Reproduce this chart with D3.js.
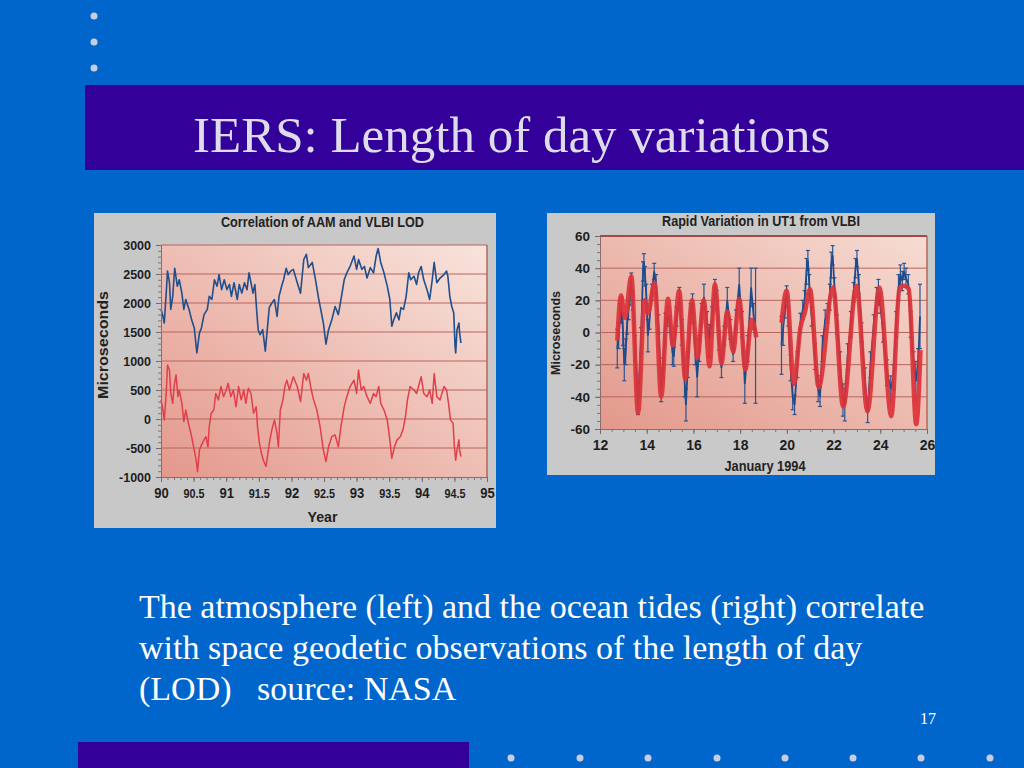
<!DOCTYPE html>
<html>
<head>
<meta charset="utf-8">
<script src="https://cdn.jsdelivr.net/npm/d3@7"></script>
<style>
body { margin: 0; background: #0066cc; }
svg { display: block; }
</style>
</head>
<body>
<svg id="slide" width="1024" height="768"></svg>
<script>
"use strict";

// ---- left chart: Correlation of AAM and VLBI LOD (year, microseconds)
var lodSeries = [[90.00,1890],[90.03,1770],[90.05,1655],[90.08,2170],[90.10,2550],[90.13,2350],[90.15,1890],[90.18,2115],[90.21,2600],[90.25,2290],[90.28,2400],[90.32,2170],[90.35,1890],[90.38,2060],[90.43,1890],[90.47,1710],[90.51,1570],[90.55,1140],[90.59,1485],[90.62,1570],[90.66,1800],[90.71,1890],[90.74,2115],[90.78,2060],[90.82,2400],[90.86,2290],[90.89,2490],[90.93,2230],[90.97,2400],[91.01,2230],[91.05,2320],[91.08,2115],[91.12,2350],[91.17,2060],[91.20,2320],[91.24,2170],[91.28,2350],[91.32,2230],[91.35,2520],[91.38,2350],[91.41,2170],[91.44,2320],[91.47,1830],[91.49,1540],[91.52,1455],[91.56,1540],[91.60,1170],[91.63,1540],[91.66,1920],[91.70,2000],[91.74,2060],[91.78,1770],[91.81,2115],[91.85,2290],[91.88,2400],[91.92,2600],[91.95,2490],[91.99,2550],
    [92.03,2580],[92.09,2350],[92.14,2170],[92.19,2750],[92.23,2840],[92.26,2610],[92.32,2700],[92.37,2400],[92.42,2060],[92.45,1890],[92.49,1655],[92.53,1290],[92.57,1540],[92.62,1710],[92.67,1940],[92.72,1800],[92.76,2060],[92.81,2400],[92.85,2520],[92.90,2630],[92.96,2810],[93.00,2580],[93.03,2750],[93.08,2580],[93.12,2630],[93.16,2430],[93.21,2610],[93.26,2520],[93.30,2810],[93.33,2940],[93.37,2700],[93.42,2520],[93.47,2290],[93.51,2060],[93.54,1600],[93.57,1710],[93.61,1830],[93.65,1710],[93.68,1920],[93.72,1890],[93.76,2115],[93.80,2520],[93.83,2400],[93.88,2460],[93.92,2320],[93.95,2520],[93.99,2630],[94.03,2400],[94.08,2230],[94.12,2060],[94.16,2400],[94.19,2700],[94.23,2350],[94.28,2430],[94.34,2490],[94.38,2550],[94.40,2460],[94.43,2115],[94.46,1940],[94.49,1830],[94.51,1255],[94.52,1140],[94.54,1540],[94.57,1655],[94.58,1485],[94.60,1310]];

var aamSeries = [[90.00,330],[90.03,155],[90.05,-15],[90.08,440],[90.10,930],[90.13,845],[90.15,440],[90.18,270],[90.20,560],[90.23,760],[90.26,385],[90.28,500],[90.32,270],[90.35,-45],[90.38,155],[90.42,-75],[90.46,-250],[90.50,-480],[90.54,-710],[90.56,-910],[90.59,-535],[90.62,-450],[90.66,-360],[90.69,-305],[90.72,-480],[90.74,-130],[90.77,100],[90.81,155],[90.84,440],[90.88,330],[90.92,560],[90.96,385],[91.00,500],[91.03,615],[91.07,385],[91.11,500],[91.15,210],[91.19,560],[91.23,330],[91.27,500],[91.30,270],[91.34,530],[91.38,440],[91.42,100],[91.46,210],[91.48,-130],[91.51,-420],[91.54,-590],[91.57,-710],[91.61,-820],[91.64,-590],[91.67,-360],[91.70,-190],[91.74,-15],[91.78,-250],[91.80,-480],[91.83,155],[91.87,330],[91.90,560],[91.93,670],[91.97,500],[92.00,615],
    [92.03,730],[92.09,560],[92.14,300],[92.19,785],[92.23,670],[92.26,785],[92.30,530],[92.34,330],[92.39,155],[92.44,-130],[92.49,-535],[92.53,-735],[92.57,-480],[92.62,-305],[92.67,-275],[92.72,-480],[92.76,-130],[92.81,210],[92.85,385],[92.90,560],[92.96,670],[93.00,440],[93.03,845],[93.07,500],[93.11,560],[93.16,385],[93.21,270],[93.26,440],[93.30,385],[93.34,560],[93.37,270],[93.42,155],[93.47,-15],[93.51,-360],[93.54,-680],[93.58,-480],[93.62,-360],[93.67,-305],[93.71,-190],[93.75,40],[93.78,330],[93.82,560],[93.88,500],[93.92,440],[93.95,560],[93.99,730],[94.03,440],[94.08,385],[94.12,500],[94.16,270],[94.19,785],[94.23,385],[94.28,330],[94.34,560],[94.38,500],[94.41,270],[94.44,-15],[94.48,-75],[94.50,-480],[94.52,-710],[94.54,-535],[94.57,-360],[94.58,-535],[94.60,-650]];

var lodYTicks = [-1000, -500, 0, 500, 1000, 1500, 2000, 2500, 3000];
var lodXTicks = [90, 90.5, 91, 91.5, 92, 92.5, 93, 93.5, 94, 94.5, 95];

// ---- right chart: Rapid Variation in UT1 from VLBI (day of January 1994, microseconds)
// ocean tide model, null marks the gap
var tideDays = [12.74,12.90,13.07,13.34,13.63,13.91,14.05,14.34,14.62,14.91,15.12,15.39,15.65,15.94,16.17,16.44,16.69,16.92,17.20,17.45,17.70,17.96,18.22,18.49,18.69, null,
    19.77,19.99,20.30,20.58,20.78,20.99,21.36,21.98,22.41,22.98,23.45,23.96,24.47,24.82,25.00,25.22,25.54,25.72];
var tideValues = [-5,23,9,35,-50,20,12,31,-40,21,-8,26,-29,20,-16,20,-21,30,-19,13,-12,21,-23,8,-3, null,
    6,26,-32,3,13,27,-34,28,-46,29,-49,28,-52,27,29,27,-57,-11];

// VLBI observations with error bars, null marks the gap
var obsDays = [12.74,12.80,12.86,12.92,12.98,13.04,13.10,13.16,13.22,13.28,13.34,13.40,13.50,13.63,13.76,13.84,13.88,13.93,13.98,14.05,14.12,14.22,14.32,14.40,14.50,14.62,14.70,14.80,14.90,15.00,15.10,15.16,15.28,15.40,15.50,15.62,15.68,15.76,15.88,15.96,16.08,16.16,16.25,16.35,16.45,16.58,16.68,16.80,16.92,17.00,17.10,17.20,17.32,17.45,17.58,17.70,17.82,17.96,18.08,18.20,18.32,18.47,18.58,18.66, null,
    19.77,19.84,19.92,19.99,20.06,20.16,20.25,20.33,20.45,20.58,20.68,20.76,20.84,20.90,20.96,21.06,21.20,21.34,21.42,21.52,21.64,21.74,21.84,21.90,21.96,22.04,22.14,22.28,22.40,22.48,22.60,22.74,22.86,22.94,23.00,23.08,23.20,23.34,23.46,23.58,23.72,23.84,23.92,24.00,24.12,24.28,24.45,24.56,24.68,24.78,24.86,24.94,25.02,25.10,25.20,25.30,25.42,25.52,25.62,25.70];
var obsValues = [-10,-2,12,14,2,-20,-12,5,14,22,32,20,-10,-45,-5,38,44,35,24,-2,8,25,38,30,5,-35,-22,6,10,5,-12,-15,10,22,0,-30,-45,-20,12,18,-12,-28,-10,12,22,5,-5,10,28,20,-5,-22,-2,20,2,-14,8,30,5,-32,-10,28,10,-2, null,
    -8,2,15,24,10,-22,-40,-45,-20,6,14,20,38,45,30,10,-15,-35,-40,-10,8,12,22,42,48,28,5,-20,-42,-45,-15,5,25,40,46,30,0,-30,-50,-20,5,20,25,18,0,-25,-35,-28,5,28,36,32,38,34,30,5,-18,-30,-20,10];
var obsErrors = [12,8,6,8,10,10,8,6,6,5,5,6,8,6,8,6,5,6,6,10,6,5,5,6,6,8,6,6,6,5,8,6,6,6,8,10,10,8,6,6,8,12,8,6,8,8,10,6,5,6,6,6,6,8,6,4,6,10,8,12,8,12,8,42, null,
    18,10,6,5,6,8,8,6,8,6,6,6,8,6,6,6,8,8,6,8,6,6,8,8,6,6,6,8,10,10,8,8,6,6,5,6,6,8,6,8,6,8,8,6,6,8,8,8,8,8,6,6,5,6,6,8,6,12,10,20];

var utYTicks = [-60, -40, -20, 0, 20, 40, 60];
var utXTicks = [12, 14, 16, 18, 20, 22, 24, 26];

var labelFont = "'Liberation Sans', Arial, sans-serif";
var slideFont = "'Liberation Serif', 'Times New Roman', serif";
var gridColor = "#b8645e";

var svg = d3.select("#slide");

function addGradient(defs, id, from, to) {
    var grad = defs.append("linearGradient")
        .attr("id", id)
        .attr("x1", 0).attr("y1", 1)
        .attr("x2", 1).attr("y2", 0);
    grad.append("stop").attr("offset", "0%").attr("stop-color", from);
    grad.append("stop").attr("offset", "100%").attr("stop-color", to);
};

function styleAxis(g, size) {
    g.select(".domain").attr("stroke", "#8a6e6e");
    g.selectAll(".tick line").attr("stroke", "#7d6666");
    g.selectAll("text")
        .attr("fill", "#1e1e1e")
        .style("font-family", labelFont)
        .style("font-weight", "bold")
        .style("font-size", size + "px");
};

function drawMinorTicks(g, axis) {
    g.call(axis);
    g.select(".domain").remove();
    g.selectAll(".tick line").attr("stroke", "#8a7070");
};

// condensed bold label squeezed to the width it has in the picture
function addLabel(g, x, y, size, width, txt, rotate) {
    var t = g.append("text")
        .attr("text-anchor", "middle")
        .attr("fill", "#222222")
        .attr("textLength", width)
        .attr("lengthAdjust", "spacingAndGlyphs")
        .style("font-family", labelFont)
        .style("font-weight", "bold")
        .style("font-size", size + "px")
        .text(txt);
    if (rotate) {
        t.attr("transform", "translate(" + x + "," + y + ") rotate(-90)");
    } else {
        t.attr("x", x).attr("y", y);
    }
    return t;
};

function drawSlide() {
    svg.append("rect")
        .attr("width", 1024).attr("height", 768)
        .attr("fill", "#0066cc");

    svg.selectAll("circle.topdot")
        .data([16, 42, 68])
        .enter().append("circle")
        .attr("class", "topdot")
        .attr("cx", 94).attr("cy", function(d) { return d; })
        .attr("r", 3.5)
        .attr("fill", "#c9cde0");

    svg.append("rect")
        .attr("x", 85).attr("y", 85)
        .attr("width", 939).attr("height", 85)
        .attr("fill", "#330099");

    svg.append("text")
        .attr("x", 193).attr("y", 152)
        .attr("fill", "#dcdcea")
        .style("font-family", slideFont)
        .style("font-size", "51px")
        .text("IERS: Length of day variations");

    svg.append("rect")
        .attr("x", 78).attr("y", 742)
        .attr("width", 391).attr("height", 26)
        .attr("fill", "#330099");

    svg.selectAll("circle.botdot")
        .data([511, 580, 648, 717, 785, 853, 921, 990])
        .enter().append("circle")
        .attr("class", "botdot")
        .attr("cx", function(d) { return d; }).attr("cy", 758)
        .attr("r", 3.5)
        .attr("fill", "#c9cde0");

    var lines = [
        "The atmosphere (left) and the ocean tides (right) correlate",
        "with space geodetic observations of the length of day",
        "(LOD)\u00a0\u00a0\u00a0source: NASA"
    ];
    svg.selectAll("text.body")
        .data(lines)
        .enter().append("text")
        .attr("class", "body")
        .attr("x", 139)
        .attr("y", function(d, i) { return 618 + i * 41; })
        .attr("fill", "#ffffff")
        .style("font-family", slideFont)
        .style("font-size", "34px")
        .text(function(d) { return d; });

    svg.append("text")
        .attr("x", 936).attr("y", 724)
        .attr("text-anchor", "end")
        .attr("fill", "#ffffff")
        .style("font-family", slideFont)
        .style("font-size", "16px")
        .text("17");
};

function drawLodChart(defs) {
    var g = svg.append("g");
    g.append("rect")
        .attr("x", 94).attr("y", 213)
        .attr("width", 402).attr("height", 315)
        .attr("fill", "#c8c8c8");

    var x = d3.scaleLinear().domain([90, 95]).range([161, 487]);
    var y = d3.scaleLinear().domain([-1000, 3000]).range([477, 245]);

    addGradient(defs, "lodFill", "#e4988c", "#f8e4dc");
    g.append("rect")
        .attr("x", x(90)).attr("y", y(3000))
        .attr("width", x(95) - x(90)).attr("height", y(-1000) - y(3000))
        .attr("fill", "url(#lodFill)");

    g.selectAll("line.grid")
        .data(lodYTicks.filter(function(v) { return v > -1000; }))
        .enter().append("line")
        .attr("class", "grid")
        .attr("x1", x(90)).attr("x2", x(95))
        .attr("y1", function(d) { return y(d); })
        .attr("y2", function(d) { return y(d); })
        .attr("stroke", gridColor)
        .attr("stroke-width", 1);
    g.append("line")
        .attr("x1", x(95)).attr("x2", x(95))
        .attr("y1", y(3000)).attr("y2", y(-1000))
        .attr("stroke", gridColor)
        .attr("stroke-width", 1.5);

    var lineMaker = d3.line()
        .x(function(d) { return x(d[0]); })
        .y(function(d) { return y(d[1]); });

    g.append("path")
        .datum(lodSeries)
        .attr("d", lineMaker)
        .attr("fill", "none")
        .attr("stroke", "#1f4f8c")
        .attr("stroke-width", 1.6)
        .attr("stroke-linejoin", "round");
    g.append("path")
        .datum(aamSeries)
        .attr("d", lineMaker)
        .attr("fill", "none")
        .attr("stroke", "#e0404a")
        .attr("stroke-width", 1.5)
        .attr("stroke-linejoin", "round");

    drawMinorTicks(g.append("g").attr("transform", "translate(" + x(90) + ",0)"),
        d3.axisLeft(y).tickValues(d3.range(-1000, 3001, 100)).tickSize(3).tickFormat(""));
    drawMinorTicks(g.append("g").attr("transform", "translate(0," + y(-1000) + ")"),
        d3.axisBottom(x).tickValues(d3.range(90, 95.01, 0.1)).tickSize(3).tickFormat(""));

    var yAxis = g.append("g")
        .attr("transform", "translate(" + x(90) + ",0)")
        .call(d3.axisLeft(y).tickValues(lodYTicks).tickSize(5).tickPadding(5)
            .tickFormat(function(d) { return String(d); }));
    styleAxis(yAxis, 12.5);

    var xAxis = g.append("g")
        .attr("transform", "translate(0," + y(-1000) + ")")
        .call(d3.axisBottom(x).tickValues(lodXTicks).tickSize(5).tickFormat(function(d) { return d; }));
    styleAxis(xAxis, 14);
    xAxis.selectAll("text")
        .attr("dy", null)
        .attr("y", 21)
        .attr("transform", "scale(0.9,1)")
        .style("font-size", function(d) { return d % 1 === 0 ? "14.5px" : "12px"; });

    addLabel(g, 322.5, 227, 14, 203, "Correlation of AAM and VLBI LOD", false);
    addLabel(g, 322.5, 522, 15, 30, "Year", false);
    addLabel(g, 108, 345, 14, 108, "Microseconds", true);
};

function drawUt1Chart(defs) {
    var g = svg.append("g");
    g.append("rect")
        .attr("x", 547).attr("y", 213)
        .attr("width", 388).attr("height", 262)
        .attr("fill", "#c9c9c9");

    var x = d3.scaleLinear().domain([12, 26]).range([600, 927]);
    var y = d3.scaleLinear().domain([-60, 60]).range([429, 236]);

    addGradient(defs, "utFill", "#e3988b", "#f6dcd3");
    g.append("rect")
        .attr("x", x(12)).attr("y", y(60))
        .attr("width", x(26) - x(12)).attr("height", y(-60) - y(60))
        .attr("fill", "url(#utFill)");

    g.selectAll("line.grid")
        .data(utYTicks.filter(function(v) { return v > -60; }))
        .enter().append("line")
        .attr("class", "grid")
        .attr("x1", x(12)).attr("x2", x(26))
        .attr("y1", function(d) { return y(d); })
        .attr("y2", function(d) { return y(d); })
        .attr("stroke", function(d) { return d === 60 ? "#a44a46" : gridColor; })
        .attr("stroke-width", function(d) { return d === 60 ? 2 : 1; });
    g.append("line")
        .attr("x1", x(26)).attr("x2", x(26))
        .attr("y1", y(60)).attr("y2", y(-60))
        .attr("stroke", gridColor)
        .attr("stroke-width", 1.5);

    var obs = obsDays.map(function(d, i) {
        return { day: d, value: obsValues[i], err: obsErrors[i] };
    });
    var points = obs.filter(function(d) { return d.day !== null; });

    var bars = g.append("g").attr("stroke", "#2a5590").attr("stroke-width", 1.2);
    bars.selectAll("line.bar")
        .data(points)
        .enter().append("line")
        .attr("x1", function(d) { return x(d.day); })
        .attr("x2", function(d) { return x(d.day); })
        .attr("y1", function(d) { return y(d.value - d.err); })
        .attr("y2", function(d) { return y(d.value + d.err); });
    [-1, 1].forEach(function(side) {
        bars.selectAll("line.cap" + (side + 1))
            .data(points)
            .enter().append("line")
            .attr("x1", function(d) { return x(d.day) - 2; })
            .attr("x2", function(d) { return x(d.day) + 2; })
            .attr("y1", function(d) { return y(d.value + side * d.err); })
            .attr("y2", function(d) { return y(d.value + side * d.err); });
    });

    var obsLine = d3.line()
        .defined(function(d) { return d.day !== null; })
        .x(function(d) { return x(d.day); })
        .y(function(d) { return y(d.value); });
    g.append("path")
        .datum(obs)
        .attr("d", obsLine)
        .attr("fill", "none")
        .attr("stroke", "#1d4c8c")
        .attr("stroke-width", 1.8);

    var tide = tideDays.map(function(d, i) { return { day: d, value: tideValues[i] }; });
    var tideLine = d3.line()
        .defined(function(d) { return d.day !== null; })
        .curve(d3.curveMonotoneX)
        .x(function(d) { return x(d.day); })
        .y(function(d) { return y(d.value); });
    g.append("path")
        .datum(tide)
        .attr("d", tideLine)
        .attr("fill", "none")
        .attr("stroke", "#dc3338")
        .attr("stroke-width", 4.5)
        .attr("stroke-linejoin", "round")
        .attr("opacity", 0.92);

    drawMinorTicks(g.append("g").attr("transform", "translate(" + x(12) + ",0)"),
        d3.axisLeft(y).tickValues(d3.range(-60, 61, 5)).tickSize(3).tickFormat(""));
    drawMinorTicks(g.append("g").attr("transform", "translate(0," + y(-60) + ")"),
        d3.axisBottom(x).tickValues(d3.range(12, 26.01, 0.5)).tickSize(3).tickFormat(""));

    var yAxis = g.append("g")
        .attr("transform", "translate(" + x(12) + ",0)")
        .call(d3.axisLeft(y).tickValues(utYTicks).tickSize(5).tickPadding(5)
            .tickFormat(function(d) { return String(d); }));
    styleAxis(yAxis, 13.5);

    var xAxis = g.append("g")
        .attr("transform", "translate(0," + y(-60) + ")")
        .call(d3.axisBottom(x).tickValues(utXTicks).tickSize(5));
    styleAxis(xAxis, 14);
    xAxis.selectAll("text").attr("dy", null).attr("y", 21);

    addLabel(g, 761, 226, 14, 198, "Rapid Variation in UT1 from VLBI", false);
    addLabel(g, 765, 471, 14, 81, "January 1994", false);
    addLabel(g, 560, 333, 13, 84, "Microseconds", true);
};

var defs = svg.append("defs");
drawSlide();
drawLodChart(defs);
drawUt1Chart(defs);
</script>
</body>
</html>
